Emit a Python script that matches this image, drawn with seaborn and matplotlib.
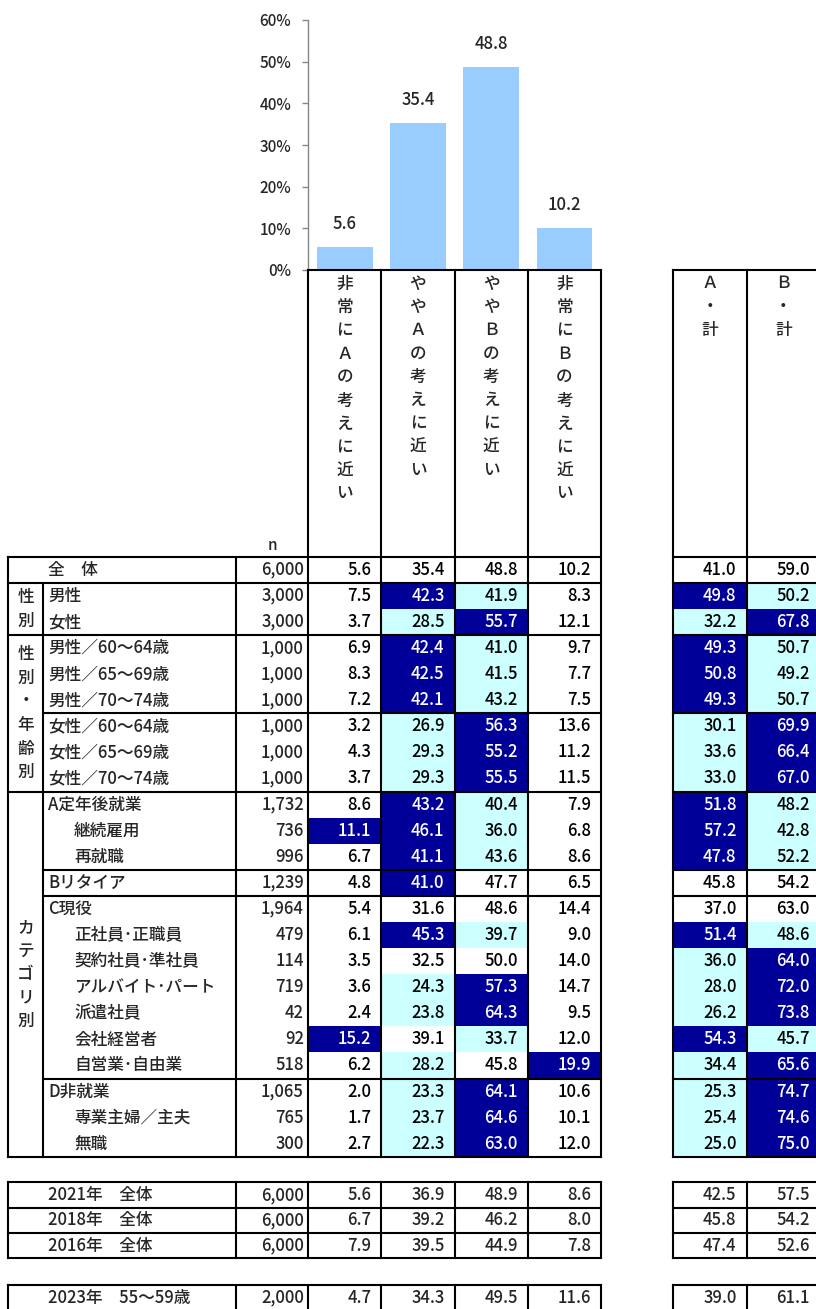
import matplotlib
matplotlib.use("Agg")
import matplotlib.pyplot as plt
from matplotlib import font_manager
from matplotlib.colors import ListedColormap
import numpy as np
import pandas as pd
import seaborn as sns

# ─── Données ───
answer_labels = ["非常にＡの考えに近い", "ややＡの考えに近い", "ややＢの考えに近い", "非常にＢの考えに近い"]
total_labels = ["Ａ・計", "Ｂ・計"]
overall_pct = [5.6, 35.4, 48.8, 10.2]

row_labels = [
    "全　体", "男性", "女性",
    "男性／60～64歳", "男性／65～69歳", "男性／70～74歳",
    "女性／60～64歳", "女性／65～69歳", "女性／70～74歳",
    "A定年後就業", "継続雇用", "再就職", "Bリタイア",
    "C現役", "正社員･正職員", "契約社員･準社員", "アルバイト･パート",
    "派遣社員", "会社経営者", "自営業･自由業",
    "D非就業", "専業主婦／主夫", "無職",
]
row_indent = [0, 0, 0, 0, 0, 0, 0, 0, 0, 0, 1, 1, 0, 0, 1, 1, 1, 1, 1, 1, 0, 1, 1]
row_n = ["6,000", "3,000", "3,000", "1,000", "1,000", "1,000", "1,000", "1,000", "1,000",
         "1,732", "736", "996", "1,239", "1,964", "479", "114", "719", "42", "92", "518",
         "1,065", "765", "300"]

very_a = [5.6, 7.5, 3.7, 6.9, 8.3, 7.2, 3.2, 4.3, 3.7, 8.6, 11.1, 6.7, 4.8, 5.4, 6.1, 3.5, 3.6, 2.4, 15.2, 6.2, 2.0, 1.7, 2.7]
some_a = [35.4, 42.3, 28.5, 42.4, 42.5, 42.1, 26.9, 29.3, 29.3, 43.2, 46.1, 41.1, 41.0, 31.6, 45.3, 32.5, 24.3, 23.8, 39.1, 28.2, 23.3, 23.7, 22.3]
some_b = [48.8, 41.9, 55.7, 41.0, 41.5, 43.2, 56.3, 55.2, 55.5, 40.4, 36.0, 43.6, 47.7, 48.6, 39.7, 50.0, 57.3, 64.3, 33.7, 45.8, 64.1, 64.6, 63.0]
very_b = [10.2, 8.3, 12.1, 9.7, 7.7, 7.5, 13.6, 11.2, 11.5, 7.9, 6.8, 8.6, 6.5, 14.4, 9.0, 14.0, 14.7, 9.5, 12.0, 19.9, 10.6, 10.1, 12.0]
total_a = [41.0, 49.8, 32.2, 49.3, 50.8, 49.3, 30.1, 33.6, 33.0, 51.8, 57.2, 47.8, 45.8, 37.0, 51.4, 36.0, 28.0, 26.2, 54.3, 34.4, 25.3, 25.4, 25.0]
total_b = [59.0, 50.2, 67.8, 50.7, 49.2, 50.7, 69.9, 66.4, 67.0, 48.2, 42.8, 52.2, 54.2, 63.0, 48.6, 64.0, 72.0, 73.8, 45.7, 65.6, 74.7, 74.6, 75.0]

# marques de significativité : "-" aucune, "L" plus bas, "H" plus haut
answer_marks = ["----", "-HL-", "-LH-", "-HL-", "-HL-", "-HL-", "-LH-", "-LH-", "-LH-",
                "-HL-", "HHL-", "-HL-", "-H--", "----", "-HL-", "----", "-LH-", "-LH-",
                "H-L-", "-L-H", "-LH-", "-LH-", "-LH-"]
total_marks = ["--", "HL", "LH", "HL", "HL", "HL", "LH", "LH", "LH", "HL", "HL", "HL", "--",
               "--", "HL", "LH", "LH", "LH", "HL", "LH", "LH", "LH", "LH"]

group_labels = ["性別", "性別・年齢別", "カテゴリ別"]
group_spans = [(1, 3), (3, 9), (9, 23)]
full_seps = [1, 3, 9]
partial_seps = [6, 12, 13, 20]

trend_labels = ["2021年　全体", "2018年　全体", "2016年　全体"]
trend_n = ["6,000", "6,000", "6,000"]
trend_pct = [[5.6, 36.9, 48.9, 8.6], [6.7, 39.2, 46.2, 8.0], [7.9, 39.5, 44.9, 7.8]]
trend_total = [[42.5, 57.5], [45.8, 54.2], [47.4, 52.6]]

young_labels = ["2023年　55～59歳"]
young_n = ["2,000"]
young_pct = [[4.7, 34.3, 49.5, 11.6]]
young_total = [[39.0, 61.1]]

# ─── Mise en page (pixels) ───
W, H = 816, 1309
X_LEFT, X_GRP, X_N, X_V0, COL_W = 8, 43, 236, 308, 73.3
X_V4 = X_V0 + 4 * COL_W
X_R0 = 673.3
X_R2 = X_R0 + 2 * COL_W
Y_60, Y_HEAD, Y_BODY, ROW_H = 20, 270, 556.7, 26.09
Y_BOT = Y_BODY + len(row_labels) * ROW_H
LOWER_ROW_H = 25.3
Y_TREND, Y_YOUNG = 1182.3, 1285

BAR_COLOR = "#99CCFF"
LIGHT, DARK = "#CCFFFF", "#000099"
LW = 1.5
FS = 12

sns.set_theme(style="white")
plt.rcParams["font.family"] = ["Noto Sans CJK JP", "DejaVu Sans"]
plt.rcParams["font.weight"] = "medium"
installed = {f.name for f in font_manager.fontManager.ttflist}
narrow = ["Liberation Sans Narrow", "Noto Sans CJK JP"] if "Liberation Sans Narrow" in installed \
    else ["Noto Sans CJK JP", "DejaVu Sans"]

fig = plt.figure(figsize=(W / 100, H / 100), dpi=100)


def fig_rect(x0, y0, x1, y1):
    return [x0 / W, 1 - y1 / H, (x1 - x0) / W, (y1 - y0) / H]


# ─── Histogramme ───
ax_bar = fig.add_axes(fig_rect(X_V0, Y_60, X_V4, Y_HEAD))
bar_df = pd.DataFrame({"answer": answer_labels, "pct": overall_pct})
sns.barplot(data=bar_df, x="answer", y="pct", color=BAR_COLOR, saturation=1,
            width=0.76, linewidth=0, ax=ax_bar)
ax_bar.bar_label(ax_bar.containers[0], fmt="%.1f", padding=10, fontsize=FS)
ax_bar.set_xlim(-0.5, 3.5)
ax_bar.set_ylim(0, 60)
ax_bar.set_yticks(range(0, 61, 10))
ax_bar.set_yticklabels([f"{t}%" for t in range(0, 61, 10)], fontsize=11)
ax_bar.set_xticks([])
ax_bar.set_xlabel("")
ax_bar.set_ylabel("")
ax_bar.patch.set_alpha(0)
for side in ["top", "right", "bottom"]:
    ax_bar.spines[side].set_visible(False)
ax_bar.spines["left"].set_color("#868686")
ax_bar.spines["left"].set_linewidth(1.0)
ax_bar.tick_params(axis="y", left=True, length=4, width=1.0, color="#868686", pad=8)

# ─── Cellules colorées (heatmaps) ───
cmap = ListedColormap(["white", LIGHT, DARK])
code = {"-": 0, "L": 1, "H": 2}
ans_codes = np.array([[code[c] for c in m] for m in answer_marks])
tot_codes = np.array([[code[c] for c in m] for m in total_marks])
ans_vals = np.array([very_a, some_a, some_b, very_b]).T
tot_vals = np.array([total_a, total_b]).T

pad = 10 / COL_W
for rect, codes, vals in [((X_V0, Y_BODY, X_V4, Y_BOT), ans_codes, ans_vals),
                          ((X_R0, Y_BODY, X_R2, Y_BOT), tot_codes, tot_vals)]:
    ax_h = fig.add_axes(fig_rect(*rect))
    sns.heatmap(codes, cmap=cmap, vmin=-0.5, vmax=2.5, cbar=False, ax=ax_h,
                xticklabels=False, yticklabels=False, linewidths=0)
    ax_h.axis("off")
    for i in range(codes.shape[0]):
        for j in range(codes.shape[1]):
            ax_h.text(j + 1 - pad, i + 0.5, f"{vals[i, j]:.1f}", ha="right", va="center",
                      fontsize=FS, color="white" if codes[i, j] == 2 else "black")

# ─── Grille, libellés ───
ax = fig.add_axes([0, 0, 1, 1], zorder=5)
ax.set_xlim(0, W)
ax.set_ylim(H, 0)
ax.axis("off")
line = dict(color="black", lw=LW, solid_capstyle="projecting")

# en-têtes verticaux
for j, label in enumerate(answer_labels):
    for k, ch in enumerate(label):
        ax.text(X_V0 + (j + 0.5) * COL_W, 283.5 + k * 23.4, ch, ha="center", va="center", fontsize=FS)
for j, label in enumerate(total_labels):
    for k, ch in enumerate(label):
        ax.text(X_R0 + (j + 0.5) * COL_W, 283.5 + k * 23.4, ch, ha="center", va="center", fontsize=FS)
ax.text((X_N + X_V0) / 2, Y_BODY - 11, "n", ha="center", va="center", fontsize=11)

# lignes de l'en-tête
for j in range(5):
    ax.plot([X_V0 + j * COL_W] * 2, [Y_HEAD, Y_BOT], **line)
for j in range(3):
    ax.plot([X_R0 + j * COL_W] * 2, [Y_HEAD, Y_BOT], **line)
ax.plot([X_V0, X_V4], [Y_HEAD] * 2, **line)
ax.plot([X_R0, X_R2], [Y_HEAD] * 2, **line)

# corps du tableau
for y in [Y_BODY, Y_BOT]:
    ax.plot([X_LEFT, X_V4], [y, y], **line)
    ax.plot([X_R0, X_R2], [y, y], **line)
ax.plot([X_LEFT] * 2, [Y_BODY, Y_BOT], **line)
ax.plot([X_N] * 2, [Y_BODY, Y_BOT], **line)
ax.plot([X_GRP] * 2, [Y_BODY + ROW_H, Y_BOT], **line)
for r in full_seps:
    y = Y_BODY + r * ROW_H
    ax.plot([X_LEFT, X_V4], [y, y], **line)
    ax.plot([X_R0, X_R2], [y, y], **line)
for r in partial_seps:
    y = Y_BODY + r * ROW_H
    ax.plot([X_GRP, X_V4], [y, y], **line)
    ax.plot([X_R0, X_R2], [y, y], **line)

for i, (label, indent, n) in enumerate(zip(row_labels, row_indent, row_n)):
    yc = Y_BODY + (i + 0.5) * ROW_H
    ax.text(48 + 26 * indent, yc, label, ha="left", va="center", fontsize=FS)
    ax.text(X_V0 - 4, yc, n, ha="right", va="center", fontsize=FS)

for label, (r0, r1) in zip(group_labels, group_spans):
    yc = Y_BODY + (r0 + r1) / 2 * ROW_H
    for k, ch in enumerate(label):
        ax.text((X_LEFT + X_GRP) / 2, yc + (k - (len(label) - 1) / 2) * 23.5, ch,
                ha="center", va="center", fontsize=FS)


# ─── Tableaux d'évolution ───
def lower_table(y0, labels, ns, pcts, totals):
    n_rows = len(labels)
    y1 = y0 + n_rows * LOWER_ROW_H
    for r in range(n_rows + 1):
        y = y0 + r * LOWER_ROW_H
        ax.plot([X_LEFT, X_V4], [y, y], **line)
        ax.plot([X_R0, X_R2], [y, y], **line)
    for x in [X_LEFT, X_N] + [X_V0 + j * COL_W for j in range(5)] + [X_R0 + j * COL_W for j in range(3)]:
        ax.plot([x, x], [y0, y1], **line)
    for i in range(n_rows):
        yc = y0 + (i + 0.5) * LOWER_ROW_H
        ax.text(48, yc, labels[i], ha="left", va="center", fontsize=FS, family=narrow)
        ax.text(X_V0 - 4, yc, ns[i], ha="right", va="center", fontsize=FS, family=narrow)
        for j, v in enumerate(pcts[i]):
            ax.text(X_V0 + (j + 1) * COL_W - 10, yc, f"{v:.1f}", ha="right", va="center",
                    fontsize=FS, family=narrow)
        for j, v in enumerate(totals[i]):
            ax.text(X_R0 + (j + 1) * COL_W - 10, yc, f"{v:.1f}", ha="right", va="center",
                    fontsize=FS, family=narrow)


lower_table(Y_TREND, trend_labels, trend_n, trend_pct, trend_total)
lower_table(Y_YOUNG, young_labels, young_n, young_pct, young_total)

fig.savefig("out.png", dpi=100)
plt.close(fig)
